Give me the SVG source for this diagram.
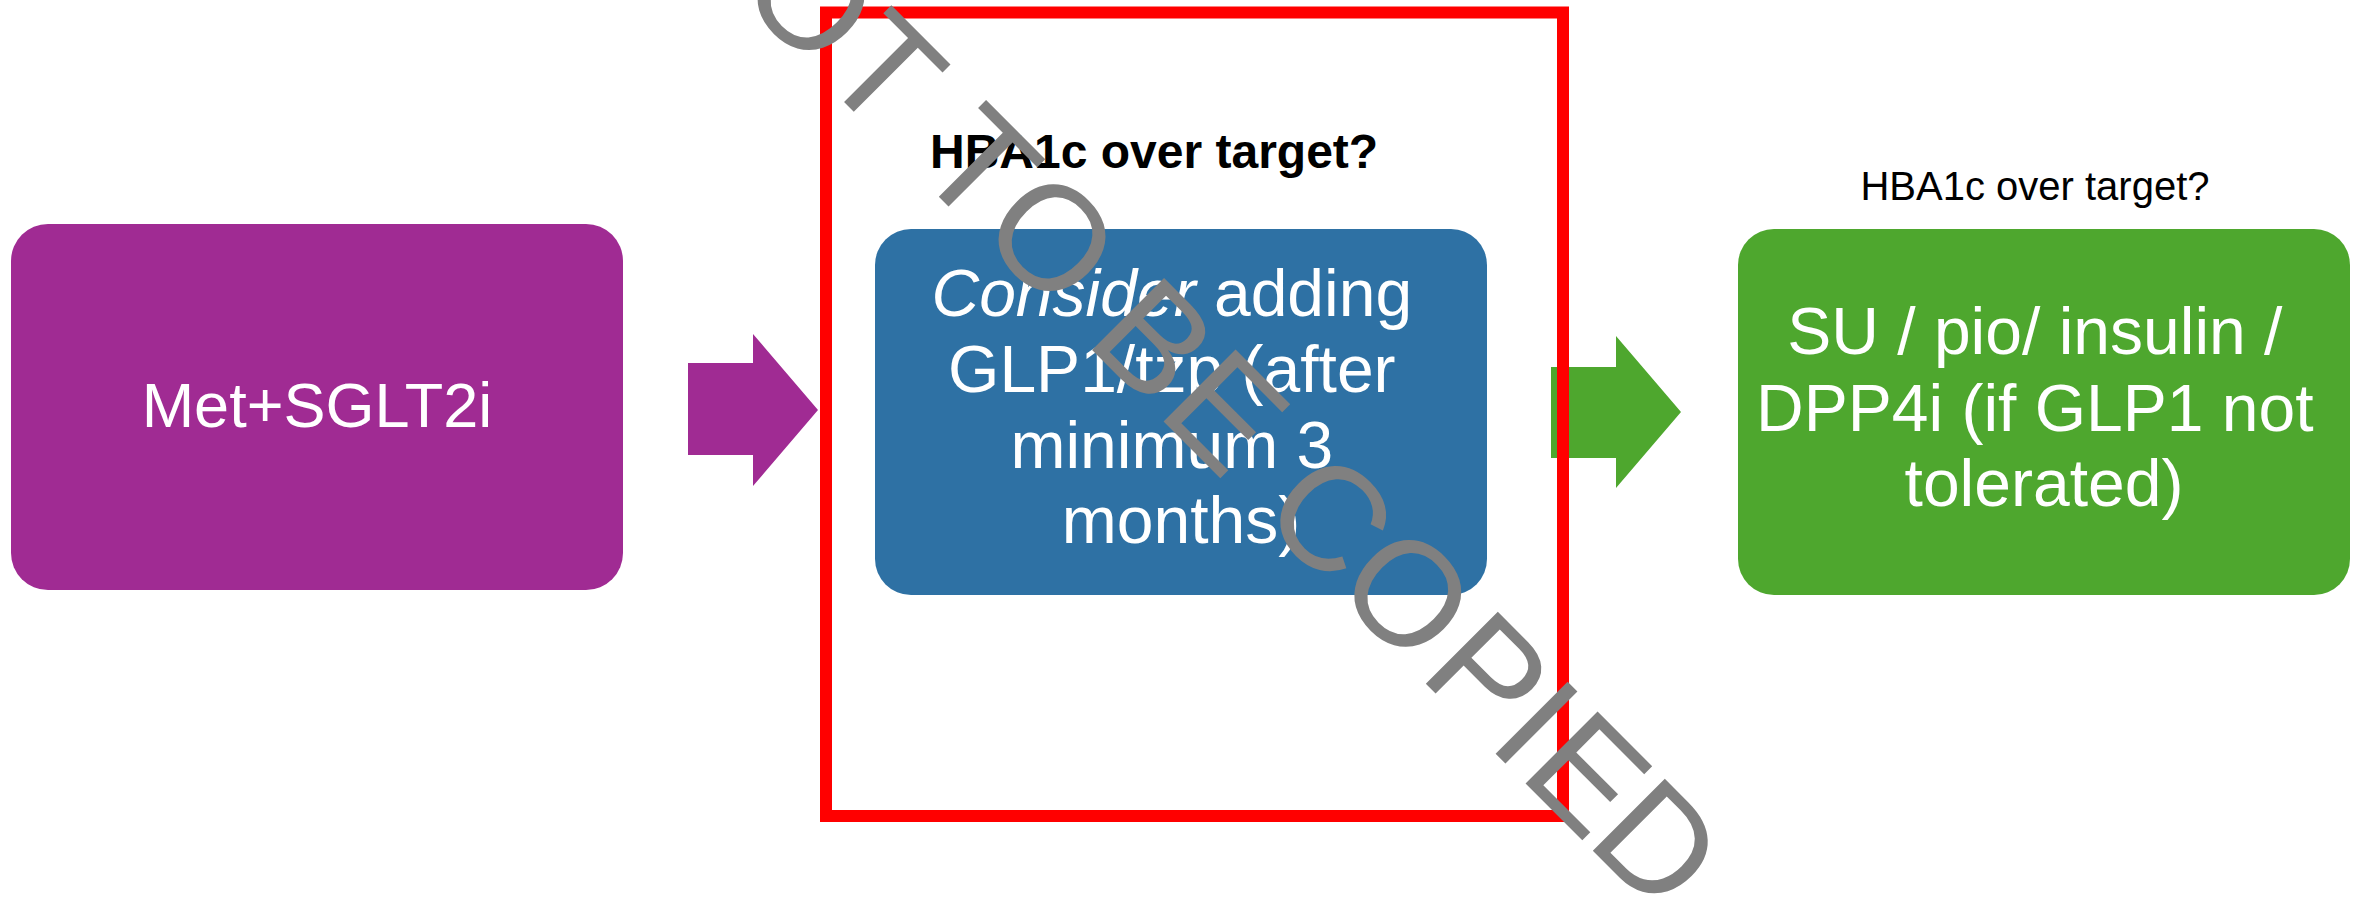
<svg xmlns="http://www.w3.org/2000/svg" width="2359" height="898" viewBox="0 0 2359 898">
<style>
.box-text{font-family:"Liberation Sans",Arial,sans-serif;fill:#FFFFFF;text-anchor:middle}
.label{font-family:"Liberation Sans",Arial,sans-serif;fill:#000000}
.wm{font-family:"Liberation Sans",Arial,sans-serif;fill:#808080;font-size:148px}
</style>
<rect width="2359" height="898" fill="#FFFFFF"/>
<g id="node-met">
  <rect x="11" y="224" width="612" height="366" rx="37" ry="37" fill="#A02B93"/>
  <text class="box-text" x="317" y="427" font-size="63">Met+SGLT2i</text>
</g>
<g id="node-glp1">
  <rect x="875" y="229" width="612" height="366" rx="36" ry="36" fill="#2E71A4"/>
  <text class="box-text" font-size="66">
    <tspan x="1181" y="316"><tspan font-style="italic">Consider</tspan> adding</tspan>
    <tspan x="1181" y="392">GLP1/tzp (after</tspan>
    <tspan x="1181" y="468">minimum 3</tspan>
    <tspan x="1181" y="543">months)</tspan>
  </text>
</g>
<g id="label-hba1c-bold">
  <text class="label" x="930" y="168" font-size="48" font-weight="bold">HBA1c over target?</text>
</g>
<g id="node-su">
  <rect x="1738" y="229" width="612" height="366" rx="36" ry="36" fill="#4EA72E"/>
  <text class="box-text" font-size="66">
    <tspan x="2044" y="354">SU / pio/ insulin /</tspan>
    <tspan x="2044" y="431">DPP4i (if GLP1 not</tspan>
    <tspan x="2044" y="506">tolerated)</tspan>
  </text>
</g>
<g id="label-hba1c">
  <text class="label" x="2035" y="200" font-size="40" text-anchor="middle">HBA1c over target?</text>
</g>
<g id="connectors">
  <polygon points="688,363 753,363 753,334 818,410 753,486 753,455 688,455" fill="#A02B93"/>
  <polygon points="1551,367 1616,367 1616,336 1681,412 1616,488 1616,458 1551,458" fill="#4EA72E"/>
</g>
<g id="highlight-frame">
  <rect x="826" y="12.5" width="737" height="803.5" fill="none" stroke="#FF0000" stroke-width="12"/>
</g>
<g id="watermark" transform="translate(742,0) rotate(45)">
  <text class="wm" x="-118 -11 106 196 240 330 445 483 584 683 728 833 955 1052 1096 1191" y="0">NOT TO BE COPIED</text>
</g>
</svg>
